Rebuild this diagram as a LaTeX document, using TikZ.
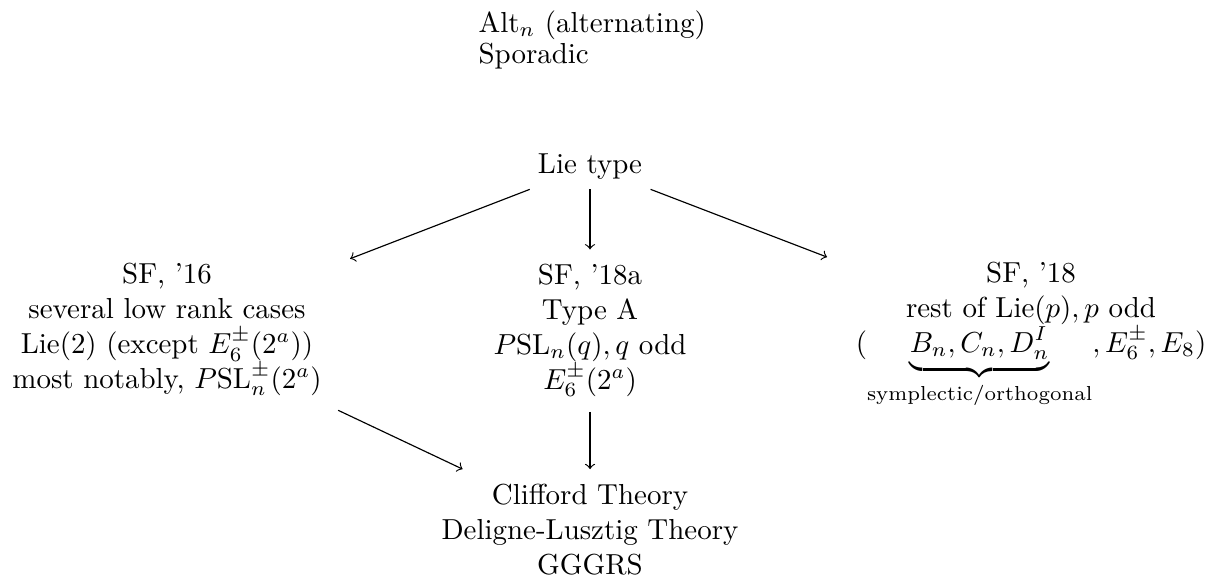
\documentclass[tikz,border=0pt]{standalone}
\usepackage{amsmath}
\begin{document}
\begin{tikzpicture}[x=0.34566pt, y=-0.34566pt,
  cell/.style={align=center, inner xsep=9.7pt, inner ysep=5pt, anchor=base},
  arr/.style={->, line width=0.4pt}]
\useasboundingbox (0,0) rectangle (1207,579);

% families not handled by Lie theory (anchored on the last line)
\node[anchor=base west, inner sep=0pt, align=left] (other) at (478,63)
  {Alt$_n$ (alternating)\\[-1.3pt] Sporadic};

% Lie type and the three papers
\node[cell, inner ysep=3.4pt] (lie) at (590,173) {Lie type};
\node[cell] (sf16) at (167,388)
  {SF, '16\\ several low rank cases\\ Lie(2) (except $E_6^{\pm}(2^a)$)\\ most notably, $P\mathrm{SL}_n^{\pm}(2^a)$};
\node[cell] (sf18a) at (590,389)
  {SF, '18a\\ Type A\\ $P\mathrm{SL}_n(q), q$ odd\\ $E_6^{\pm}(2^a)$};
\node[cell] (sf18) at (1031,352)
  {SF, '18\\ rest of Lie$(p), p$ odd\\ $(\underbrace{B_n, C_n, D_n^I}_{\text{symplectic/orthogonal}}, E_6^{\pm}, E_8)$};

% tools used
\node[cell] (tools) at (590,574)
  {Clifford Theory\\ Deligne-Lusztig Theory\\ GGGRS};

\draw[arr] (lie) -- (sf16);
\draw[arr] (lie) -- (sf18a);
\draw[arr] (lie) -- (sf18);
\draw[arr] (sf16) -- (tools);
\draw[arr] (sf18a) -- (tools);
\end{tikzpicture}
\end{document}
